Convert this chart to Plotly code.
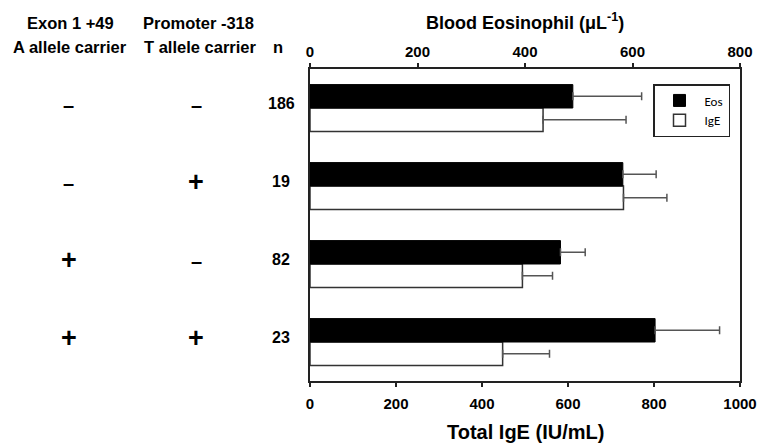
import plotly.graph_objects as go

# ---- data ----
exon_carrier = ["–", "–", "+", "+"]
promoter_carrier = ["–", "+", "–", "+"]
n_values = ["186", "19", "82", "23"]
eos_values = [489, 582, 466, 642]        # Blood eosinophil (per µL), top axis
eos_errors = [128, 62, 46, 120]
ige_values = [542, 729, 494, 448]        # Total IgE (IU/mL), bottom axis
ige_errors = [193, 101, 70, 109]
eos_ticks = [0, 200, 400, 600, 800]
ige_ticks = [0, 200, 400, 600, 800, 1000]

rows = list(range(len(n_values)))

FONT = "Liberation Sans, Arial, sans-serif"
AXC = "#222222"

# plot area in window = x 310..740, y 69..381
def px(x):
    return (x - 310) / 430

def py(y):
    return (381 - y) / 312

fig = go.Figure()
fig.add_trace(go.Bar(
    name="Eos", orientation="h", y=rows, x=eos_values, xaxis="x2",
    width=0.3, offset=-0.3,
    marker=dict(color="#000000", line=dict(color="#000000", width=1)),
    error_x=dict(type="data", array=eos_errors, symmetric=False, arrayminus=[0]*4,
                 color="#555555", thickness=1.5, width=4),
))
fig.add_trace(go.Bar(
    name="IgE", orientation="h", y=rows, x=ige_values, xaxis="x",
    width=0.3, offset=0,
    marker=dict(color="#ffffff", line=dict(color="#333333", width=1.5)),
    error_x=dict(type="data", array=ige_errors, symmetric=False, arrayminus=[0]*4,
                 color="#555555", thickness=1.5, width=4),
))

def sign_ann(x, i, s):
    if s == "+":
        return dict(x=px(x), y=i, xref="paper", yref="y", yshift=4,
                    text="<b>+</b>", showarrow=False,
                    font=dict(family=FONT, size=27, color="#000"), xanchor="center")
    return dict(x=px(x), y=i, xref="paper", yref="y", yshift=3,
                text="<b>–</b>", showarrow=False,
                font=dict(family=FONT, size=20, color="#000"), xanchor="center")

ann = []
for i in rows:
    ann.append(sign_ann(69, i, exon_carrier[i]))
    ann.append(sign_ann(196, i, promoter_carrier[i]))
    ann.append(dict(x=px(281), y=i, xref="paper", yref="y", yshift=5,
                    text="<b>" + n_values[i] + "</b>", showarrow=False,
                    font=dict(family=FONT, size=16, color="#000"), xanchor="center"))

hdr = [
    (70, 23, "Exon 1 +49"), (70, 47, "A allele carrier"),
    (198, 23, "Promoter -318"), (200, 47, "T allele carrier"),
    (278, 47, "n"),
]
for x, y, t in hdr:
    ann.append(dict(x=px(x), y=py(y), xref="paper", yref="paper",
                    text="<b>" + t + "</b>", showarrow=False,
                    font=dict(family=FONT, size=16.5, color="#000"),
                    xanchor="center", yanchor="middle"))

ann.append(dict(x=0.5, y=py(21), xref="paper", yref="paper",
                text="<b>Blood Eosinophil (μL<sup>-1</sup>)</b>", showarrow=False,
                font=dict(family=FONT, size=18, color="#000"),
                xanchor="center", yanchor="middle"))
ann.append(dict(x=0.5, y=py(432), xref="paper", yref="paper",
                text="<b>Total IgE (IU/mL)</b>", showarrow=False,
                font=dict(family=FONT, size=20, color="#000"),
                xanchor="center", yanchor="middle"))

tickfont = dict(family=FONT, size=15, color="#000", weight="bold")

fig.update_layout(
    width=757, height=443,
    margin=dict(l=310, r=17, t=69, b=62, autoexpand=False),
    paper_bgcolor="white", plot_bgcolor="white",
    showlegend=True,
    legend=dict(x=px(653), y=py(84), xanchor="left", yanchor="top",
                bordercolor="#222", borderwidth=1.5, bgcolor="white",
                font=dict(family="Carlito, Liberation Sans, sans-serif", size=13, color="#000"),
                tracegroupgap=2, itemwidth=40),
    xaxis=dict(range=[0, 1000], tickvals=ige_ticks, ticktext=[str(v) for v in ige_ticks],
               showline=True, linecolor=AXC, linewidth=1.5, ticks="outside", ticklen=4,
               tickcolor=AXC, tickwidth=1.5, showgrid=False, zeroline=False,
               tickfont=tickfont, ticklabelstandoff=4, automargin=False),
    xaxis2=dict(range=[0, 800], tickvals=eos_ticks, ticktext=[str(v) for v in eos_ticks],
                overlaying="x", side="top",
                showline=True, linecolor=AXC, linewidth=1.5, ticks="outside", ticklen=4,
                tickcolor=AXC, tickwidth=1.5, showgrid=False, zeroline=False,
                tickfont=tickfont, automargin=False),
    yaxis=dict(range=[3.5, -0.5], showticklabels=False, ticks="",
               showline=True, mirror=True, linecolor=AXC, linewidth=1.5,
               showgrid=False, zeroline=False, automargin=False),
    annotations=ann,
)

fig.write_html(
    "out.html",
    config={"displayModeBar": False},
    post_script="document.body.style.margin='0';document.body.style.overflow='hidden';",
)
